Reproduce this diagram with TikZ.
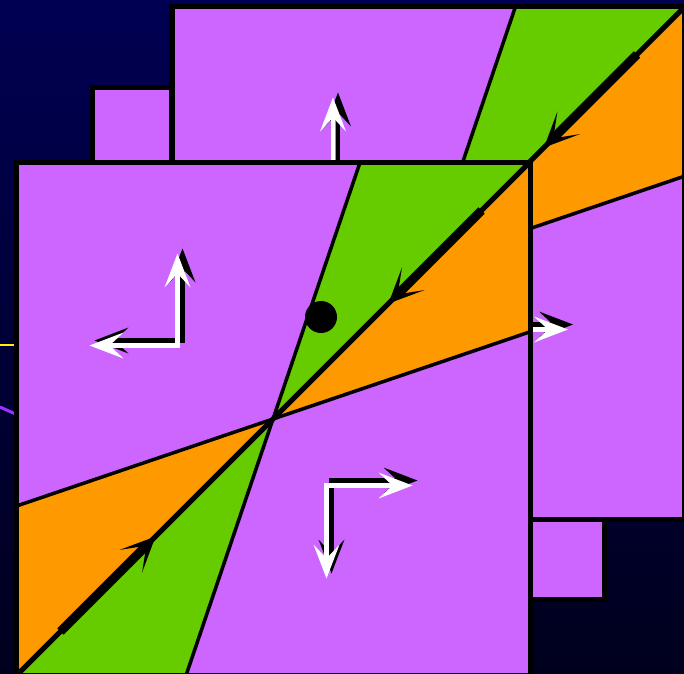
\documentclass[tikz,border=0pt]{standalone}
\usetikzlibrary{arrows.meta}
\definecolor{bgtop}{RGB}{0,0,82}
\definecolor{bgbot}{RGB}{0,0,30}
\definecolor{lilac}{RGB}{204,102,255}
\definecolor{leaf}{RGB}{102,204,0}
\definecolor{amber}{RGB}{255,153,0}
\definecolor{thinpurple}{RGB}{153,51,255}
\tikzset{
  panelframe/.style={draw=black, line width=5.5pt, line join=miter},
  sepline/.style={draw=black, line width=3.5pt},
  diagline/.style={draw=black, line width=5pt},
  flowtip/.style={-{Stealth[length=35pt,width=32pt,inset=22pt,line width=0pt]}, line width=9pt, draw=black},
  whitearrow/.style={{Stealth[length=34pt,width=26pt,inset=14pt,line width=0pt]}-{Stealth[length=34pt,width=26pt,inset=14pt,line width=0pt]}, line width=4.5pt, line join=miter},
}
\newcommand\panelbody[1]{%
  \fill[lilac] (0,0) rectangle (513,513);
  \coordinate (#1-c) at (256.5,256.5);
  \coordinate (#1-tr) at (513,0);
  \coordinate (#1-bl) at (0,513);
  \coordinate (#1-st) at (343.5,0);
  \coordinate (#1-sb) at (169.5,513);
  \coordinate (#1-hl) at (0,343.5);
  \coordinate (#1-hr) at (513,169.5);
  \fill[leaf] (#1-c) -- (#1-st) -- (#1-tr) -- cycle;
  \fill[amber] (#1-c) -- (#1-tr) -- (#1-hr) -- cycle;
  \fill[amber] (#1-c) -- (#1-hl) -- (#1-bl) -- cycle;
  \fill[leaf] (#1-c) -- (#1-bl) -- (#1-sb) -- cycle;
  \draw[sepline] (#1-sb) -- (#1-st);
  \draw[sepline] (#1-hl) -- (#1-hr);
  \draw[diagline] (#1-bl) -- (#1-tr);
  \coordinate (#1-f1s) at (44,469);
  \coordinate (#1-f1e) at (139,374);
  \coordinate (#1-f2s) at (465,48);
  \coordinate (#1-f2e) at (372,141);
  \draw[flowtip] (#1-f1s) -- (#1-f1e);
  \draw[flowtip] (#1-f2s) -- (#1-f2e);
  \coordinate (#1-a) at (161,183);
  \coordinate (#1-au) at (161,91);
  \coordinate (#1-al) at (73,183);
  \coordinate (#1-b) at (310,323);
  \coordinate (#1-bright) at (396,323);
  \coordinate (#1-bd) at (310,416);
  \draw[whitearrow, black] ([shift={(5,-5)}]#1-au) -- ([shift={(5,-5)}]#1-a) -- ([shift={(5,-5)}]#1-al);
  \draw[whitearrow, black] ([shift={(5,-5)}]#1-bright) -- ([shift={(5,-5)}]#1-b) -- ([shift={(5,-5)}]#1-bd);
  \draw[whitearrow, white] (#1-au) -- (#1-a) -- (#1-al);
  \draw[whitearrow, white] (#1-bright) -- (#1-b) -- (#1-bd);
}
\begin{document}
\begin{tikzpicture}[x=1pt,y=-1pt]
  \useasboundingbox (0,0) rectangle (684,673);
  \clip (0,0) rectangle (684,673);
  \shade[top color=bgtop, bottom color=bgbot] (0,0) rectangle (684,673);
  % stray lines at the left edge
  \coordinate (ys) at (0,345);
  \coordinate (ye) at (20,345);
  \coordinate (ps) at (0,407);
  \coordinate (pe) at (20,416);
  \draw[yellow, line width=2.5pt] (ys) -- (ye);
  \draw[thinpurple, line width=3pt] (ps) -- (pe);
  % small squares
  \coordinate (s1a) at (92.5,87.5);
  \coordinate (s1b) at (175,165);
  \filldraw[fill=lilac, panelframe] (s1a) rectangle (s1b);
  \coordinate (s2a) at (525,515);
  \coordinate (s2b) at (604.5,599.5);
  \filldraw[fill=lilac, panelframe] (s2a) rectangle (s2b);
  % back panel
  \begin{scope}[shift={(172,6.5)}]
    \panelbody{bk}
    \draw[panelframe] (0,0) rectangle (513,513);
  \end{scope}
  % front panel
  \begin{scope}[shift={(16.5,162.5)}]
    \panelbody{fr}
    \coordinate (dot) at (304.5,154.5);
    \fill[black] (dot) circle (16);
    \draw[panelframe] (0,0) rectangle (514,513);
  \end{scope}
\end{tikzpicture}
\end{document}
